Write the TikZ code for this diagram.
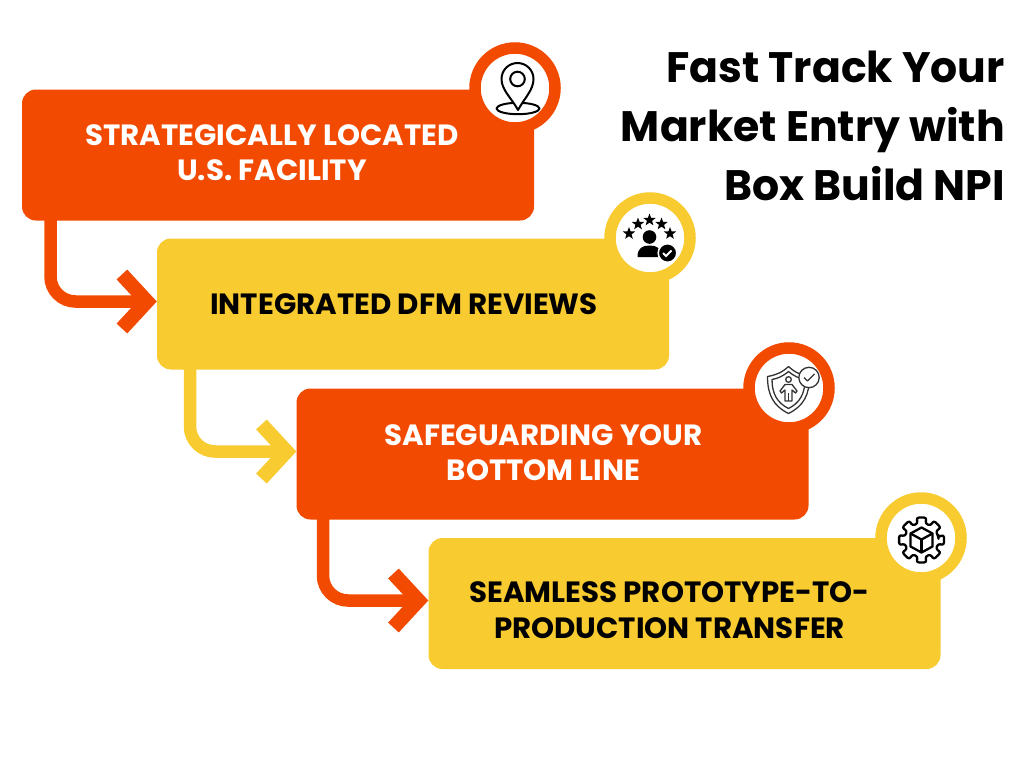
\documentclass[tikz,border=0pt]{standalone}
\usepackage{fontspec}
\setmainfont{Poppins}
\usetikzlibrary{arrows.meta,shapes.geometric}
\definecolor{stepred}{HTML}{F24A00}
\definecolor{stepyellow}{HTML}{F8CB30}
\tikzset{
    stepbox/.style={rectangle, rounded corners=14, minimum width=512, minimum height=131, inner sep=0},
    steplabel/.style={inner sep=0, align=center, font=\fontsize{29.3}{35.5}\selectfont\bfseries},
    badge/.style={circle, fill=white, line width=11.5, minimum size=80, inner sep=0},
    link/.style={line width=12.5, rounded corners=25, -{Straight Barb[length=25,width=54,line width=14.5]}},
    icon/.style={line width=2, black, line join=round},
    titleline/.style={anchor=base east, inner sep=0, font=\fontsize{42.6}{42.6}\selectfont\bfseries}
}
\begin{document}
\begin{tikzpicture}[x=1pt, y=-1pt]
    \useasboundingbox (0,0) rectangle (1024,768);

    % titel
    \node[titleline] (title1) at (1005,82.5) {Fast Track Your};
    \node[titleline] (title2) at (1005,141.5) {Market Entry with};
    \node[titleline] (title3) at (1005,200.5) {Box Build NPI};

    % kaarten
    \node[stepbox, fill=stepred] (box1) at (278,155) {};
    \node[stepbox, fill=stepyellow] (box2) at (413,304) {};
    \node[stepbox, fill=stepred] (box3) at (552.5,454) {};
    \node[stepbox, fill=stepyellow] (box4) at (684.5,603.5) {};

    % teksten
    \node[steplabel, text=white] (label1) at (272,152.5) {STRATEGICALLY LOCATED\\U.S. FACILITY};
    \node[steplabel, text=black] (label2) at (404,304) {INTEGRATED DFM REVIEWS};
    \node[steplabel, text=white] (label3) at (543.5,452.5) {SAFEGUARDING YOUR\\BOTTOM LINE};
    \node[steplabel, text=black] (label4) at (669.5,610) {SEAMLESS PROTOTYPE-TO-\\PRODUCTION TRANSFER};

    % pijlen
    \coordinate (start1) at (50.5,215);
    \coordinate (start2) at (190,365);
    \coordinate (start3) at (323,515);
    \draw[link, stepred] (start1) |- ([yshift=2.5pt]box2.west);
    \draw[link, stepyellow] (start2) |- ([yshift=2.5pt]box3.west);
    \draw[link, stepred] (start3) |- ([yshift=3pt]box4.west);

    % rondjes
    \node[badge, draw=stepred] (badge1) at (515,88) {};
    \node[badge, draw=stepyellow] (badge2) at (650,238) {};
    \node[badge, draw=stepred] (badge3) at (789,388) {};
    \node[badge, draw=stepyellow] (badge4) at (921,538) {};

    % locatie icoon
    \begin{scope}[shift={(517.5,79)}, icon]
        \draw (0.5,29.5) ellipse (21.5 and 5.7);
        \draw[fill=white] (0.5,31) .. controls (-6,19) and (-16,11) .. (-16,0) arc (180:360:16) .. controls (16,11) and (7,19) .. cycle;
        \draw (0,0) circle (7.3);
    \end{scope}

    % sterren icoon
    \begin{scope}[shift={(649.5,240)}]
        \foreach \i/\x/\y in {1/-20.5/-6.5, 2/-11.5/-16, 3/0/-20, 4/12/-16, 5/20.5/-6.5} {
            \node[star, star points=5, star point ratio=2.4, fill=black, minimum size=13, inner sep=0] (star\i) at (\x,\y) {};
        }
        \fill[black] (0,-3) circle (6.8);
        \fill[black] (-12,17) .. controls (-12,8) and (-7,5.5) .. (0,5.5) .. controls (7,5.5) and (12,8) .. (12,17) -- cycle;
        \draw[white, line width=1.5, fill=black] (18,13) circle (9.3);
        \draw[white, line width=1.8] (13.5,13) -- (16.5,16) -- (22,10.5);
    \end{scope}

    % schild icoon
    \begin{scope}[shift={(788.5,390)}, icon, line width=1.3, black!80]
        \draw (0,-23.5) .. controls (-7,-17) and (-13,-15) .. (-21,-13.5) .. controls (-21,5) and (-15,16) .. (0,23.5) .. controls (15,16) and (21,5) .. (21,-13.5) .. controls (13,-15) and (7,-17) .. cycle;
        \draw (0,-18.5) .. controls (-6,-13.5) and (-11,-11.5) .. (-16.5,-10.5) .. controls (-16.5,4) and (-11,13) .. (0,18.5) .. controls (11,13) and (16.5,4) .. (16.5,-10.5) .. controls (11,-11.5) and (6,-13.5) .. cycle;
        \draw (0,-10.5) circle (2.8);
        \draw (-3.5,11) -- (-3.5,0) -- (-7,3) -- (-8.5,1) -- (-3.5,-5.5) -- (3.5,-5.5) -- (8.5,1) -- (7,3) -- (3.5,0) -- (3.5,11) -- cycle;
        \draw (0,3) -- (0,11);
        \draw[fill=white] (20.5,-12.5) circle (10.2);
        \draw (15.5,-12.5) -- (19,-9) -- (26,-16);
    \end{scope}

    % tandwiel icoon
    \begin{scope}[shift={(921.5,540)}, icon, line width=2.3]
        \draw[rounded corners=2.5] (-10:17) \foreach \a in {0,45,...,315} { -- (\a-13:23) -- (\a+13:23) -- (\a+22.5-10:17) -- (\a+22.5+10:17)} -- cycle;
        \draw (0,-12.5) -- (11,-6.5) -- (11,6.5) -- (0,12.5) -- (-11,6.5) -- (-11,-6.5) -- cycle;
        \draw (-11,-6.5) -- (0,-0.5) -- (11,-6.5);
        \draw (0,-0.5) -- (0,12.5);
    \end{scope}
\end{tikzpicture}
\end{document}
